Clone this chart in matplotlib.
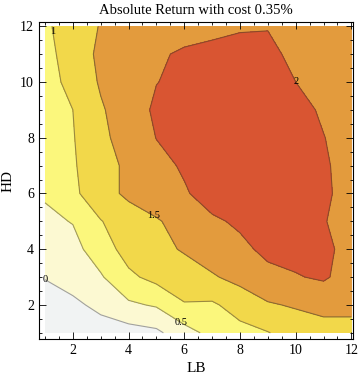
import matplotlib
matplotlib.use("Agg")
import matplotlib.pyplot as plt
from matplotlib.ticker import MultipleLocator
import numpy as np

# grid of the data: LB along x, HD along y
lb = [1, 2, 3, 4, 5, 6, 7, 8, 9, 10, 11, 12]
hd = [1, 2, 3, 4, 5, 6, 7, 8, 9, 10, 11, 12]

# absolute return, one row per HD value (HD = 1 first)
ret_hd1 = [-0.6, -0.45, -0.22, -0.2, -0.1, 0.3, 0.65, 0.85, 0.98, 1.2, 1.3, 1.3]
ret_hd2 = [-0.3, -0.1, 0.12, 0.42, 0.55, 0.97, 0.93, 1.2, 1.45, 1.55, 1.65, 1.65]
ret_hd3 = [0.03, 0.2, 0.45, 0.9, 1.15, 1.25, 1.45, 1.65, 1.88, 1.97, 2.06, 1.8]
ret_hd4 = [0.2, 0.35, 0.75, 1.2, 1.35, 1.55, 1.75, 1.9, 2.1, 2.15, 2.1, 1.85]
ret_hd5 = [0.4, 0.52, 0.98, 1.25, 1.45, 1.7, 1.93, 2.07, 2.2, 2.2, 2.02, 1.85]
ret_hd6 = [0.55, 0.9, 1.3, 1.6, 1.8, 1.95, 2.2, 2.3, 2.3, 2.25, 2.07, 1.85]
ret_hd7 = [0.65, 0.95, 1.3, 1.6, 1.85, 2.06, 2.2, 2.3, 2.25, 2.2, 2.05, 1.85]
ret_hd8 = [0.7, 0.97, 1.42, 1.65, 2.01, 2.15, 2.2, 2.25, 2.2, 2.15, 2.01, 1.85]
ret_hd9 = [0.75, 1.0, 1.45, 1.75, 2.08, 2.15, 2.2, 2.2, 2.15, 2.12, 1.95, 1.85]
ret_hd10 = [0.8, 1.15, 1.55, 1.8, 1.99, 2.1, 2.15, 2.15, 2.1, 2.0, 1.9, 1.8]
ret_hd11 = [0.85, 1.22, 1.6, 1.8, 1.95, 2.05, 2.1, 2.1, 2.05, 1.95, 1.85, 1.75]
ret_hd12 = [0.9, 1.3, 1.52, 1.7, 1.8, 1.85, 1.9, 1.97, 1.99, 1.9, 1.8, 1.7]

levels = [0, 0.5, 1, 1.5, 2]
label_pos = [(1.0, 2.9), (6.0, 1.55), (1.25, 11.8), (4.9, 5.2), (10.0, 10.0)]

Z = np.array([ret_hd1, ret_hd2, ret_hd3, ret_hd4, ret_hd5, ret_hd6,
              ret_hd7, ret_hd8, ret_hd9, ret_hd10, ret_hd11, ret_hd12])
X, Y = np.meshgrid(lb, hd)

fill_colors = ['#f1f3f3', '#fcf9d2', '#fbf77c', '#f2d84a', '#e39b3d', '#d95532']
line_colors = ['#a0a0a0', '#a09a60', '#9a8a40', '#8a6a30', '#8a4a28']

plt.rcParams['font.family'] = ['Liberation Serif', 'DejaVu Serif']

fig = plt.figure(figsize=(3.6, 3.8), dpi=100)
ax = fig.add_axes([0.108, 0.108, 0.872, 0.834])

ax.contourf(X, Y, Z, levels=[-10] + levels + [10], colors=fill_colors)
cs = ax.contour(X, Y, Z, levels=levels, colors=line_colors, linewidths=0.8)
labels = ax.clabel(cs, fmt=lambda v: f'{v:g}', fontsize=7.5, inline=False,
                   manual=label_pos, colors='black')
# labels stay upright like the original
for t in labels:
    t.set_rotation(0)

ax.set_xlim(0.78, 12.05)
ax.set_ylim(0.78, 12.15)
ax.xaxis.set_major_locator(MultipleLocator(2))
ax.yaxis.set_major_locator(MultipleLocator(2))
ax.xaxis.set_minor_locator(MultipleLocator(0.5))
ax.yaxis.set_minor_locator(MultipleLocator(0.5))
ax.tick_params(which='both', direction='in', top=True, right=True, labelsize=10, width=0.6)
ax.tick_params(which='major', length=5)
ax.tick_params(which='minor', length=2.5)
for s in ax.spines.values():
    s.set_linewidth(0.8)

ax.set_xlabel('LB', fontsize=11)
ax.set_ylabel('HD', fontsize=11)
ax.set_title('Absolute Return with cost 0.35%', fontsize=10.5, pad=6)

fig.savefig('out.png', dpi=100)
